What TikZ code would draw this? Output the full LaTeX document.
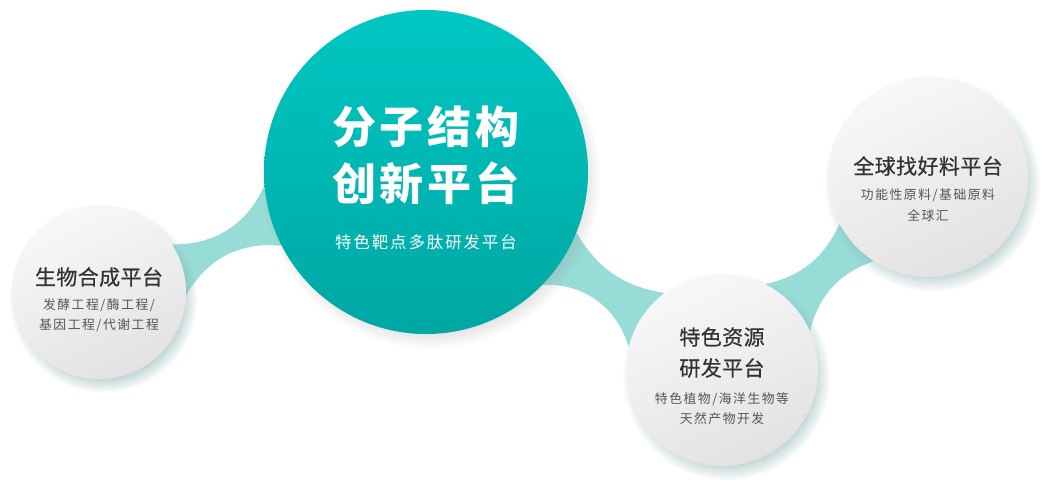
\documentclass[tikz,border=0pt]{standalone}
\usepackage{fontspec}
\newfontfamily\cjk{Noto Sans CJK SC}
\usetikzlibrary{calc,shadows,backgrounds}

\definecolor{coretop}{HTML}{00C7C2}
\definecolor{corebot}{HTML}{00A7A3}
\definecolor{bridge}{HTML}{98DCD8}
\definecolor{graytop}{HTML}{F8F8F8}
\definecolor{graybot}{HTML}{E2E2E2}
\definecolor{shadecol}{HTML}{7FA9A7}
\definecolor{titlegray}{HTML}{333333}
\definecolor{subgray}{HTML}{555555}

\tikzset{
  hub/.style={circle,inner sep=0pt,top color=coretop,bottom color=corebot,
    circular drop shadow={shadow xshift=2pt,shadow yshift=-3pt,
      shadow scale=1.05,opacity=.35,fill=black!45}},
  spoke/.style={circle,inner sep=0pt,top color=graytop,bottom color=graybot,
    shading angle=25,
    circular drop shadow={shadow xshift=2pt,shadow yshift=-3pt,
      shadow scale=1.08,opacity=.45,fill=shadecol}},
  hubtitle/.style={inner sep=0pt,align=center,text=white,
    font=\cjk\bfseries\fontsize{22}{28.5}\selectfont\addfontfeature{LetterSpace=9}},
  hubsub/.style={inner sep=0pt,align=center,text=white,
    font=\cjk\fontsize{8.2}{10}\selectfont\addfontfeature{LetterSpace=12}},
  spoketitle/.style={inner sep=0pt,align=center,text=titlegray,
    font=\cjk\fontsize{10.5}{15.5}\selectfont\addfontfeature{LetterSpace=2,FakeBold=0.6}},
  spokesub/.style={inner sep=0pt,align=center,text=subgray,
    font=\cjk\fontsize{6.4}{10.2}\selectfont\addfontfeature{LetterSpace=12}},
}

\begin{document}
\begin{tikzpicture}[x=0.5pt,y=-0.5pt]
  \useasboundingbox (0,0) rectangle (1058,496);
%
  \node [hub,minimum size=162pt]   (core) at (426,172) {};
  \node [spoke,minimum size=87pt]  (bio)  at (99,292)  {};
  \node [spoke,minimum size=96pt]  (res)  at (722,370) {};
  \node [spoke,minimum size=100pt] (glob) at (928,177) {};
%
  \node [hubtitle] (coret) at ($(core.center)+(0,-16.5)$) {分子结构\\创新平台};
  \node [hubsub]   (cores) at ($(core.center)+(0,70)$)    {特色靶点多肽研发平台};
%
  \node [spoketitle] (biot) at ($(bio.center)+(0,-15)$) {生物合成平台};
  \node [spokesub]   (bios) at ($(bio.center)+(0,23)$)  {发酵工程/酶工程/\\基因工程/代谢工程};
%
  \node [spoketitle] (rest) at ($(res.center)+(0,-17.5)$) {特色资源\\研发平台};
  \node [spokesub]   (ress) at ($(res.center)+(0,38.5)$)  {特色植物/海洋生物等\\天然产物开发};
%
  \node [spoketitle] (globt) at ($(glob.center)+(0,-11)$) {全球找好料平台};
  \node [spokesub]   (globs) at ($(glob.center)+(0,28)$)  {功能性原料/基础原料\\全球汇};
%
  \begin{scope}[on background layer]
    \fill [white] (0,0) rectangle (1058,496);
    \fill [bridge] (bio.33.5) to[bend right=33] (core.185.7) -- (core.207.2)
      to[bend right=33] (bio.-2) -- cycle;
    \fill [bridge] (core.-22.6) to[bend right=25] (res.127.8) -- (res.166.3)
      to[bend right=38] (core.-44.8) -- cycle;
    \fill [bridge] (res.63.7) to[bend right=26] (glob.208.6) -- (glob.237.1)
      to[bend right=28] (res.24) -- cycle;
  \end{scope}

\end{tikzpicture}
\end{document}
